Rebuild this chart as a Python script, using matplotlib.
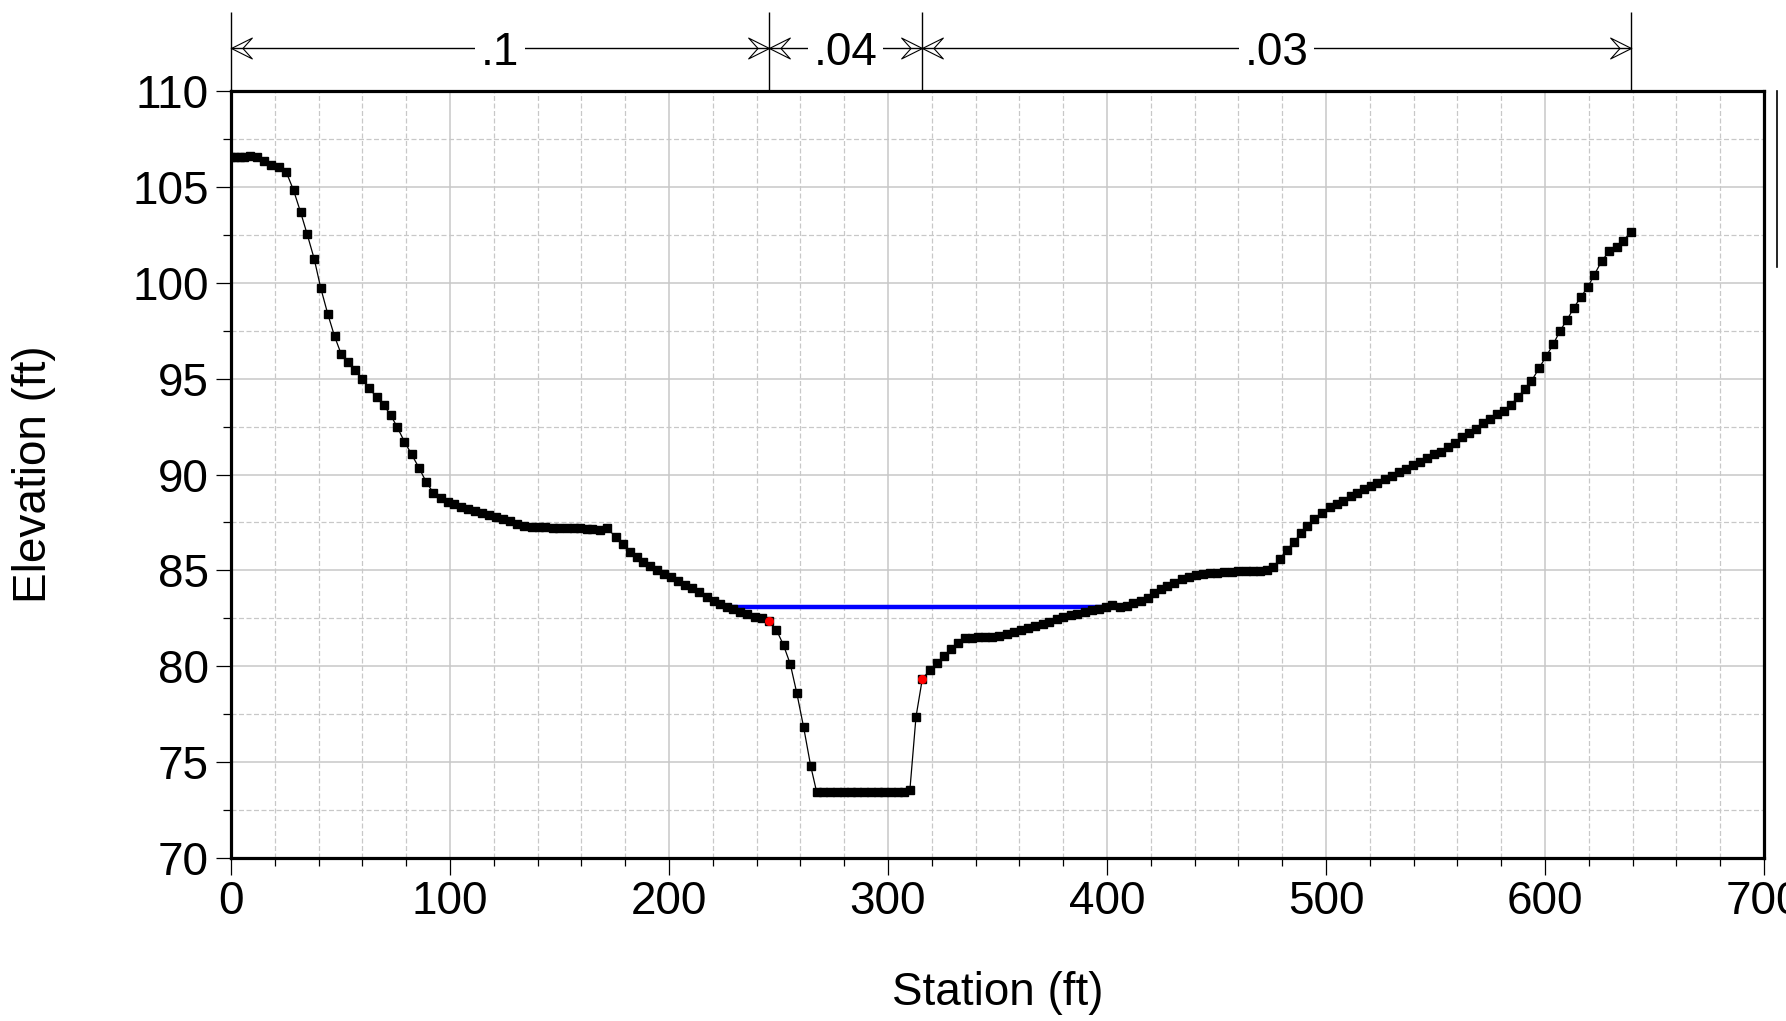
import matplotlib
matplotlib.use("Agg")
import matplotlib.pyplot as plt
from matplotlib.path import Path
from matplotlib.lines import Line2D
from matplotlib.ticker import MultipleLocator

plt.rcParams['font.family'] = ['Liberation Sans', 'DejaVu Sans']

# Cross-section ground points (station ft, elevation ft)
station = [
    0, 2, 4, 6, 8.5, 11.8, 15.3, 18.5, 22, 25.3, 28.6, 31.8, 34.8, 38, 41, 44.2,
    47.3, 50.3, 53.5, 56.5, 60, 63, 66.5, 69.8, 72.9, 75.9, 79.2, 82.5, 86, 89.2,
    92.4, 95.7, 98.9, 101.8, 105, 108.4, 111.6, 114.7, 118, 121, 124.3, 127.4,
    130.5, 133.9, 137.5, 140.5, 143.5, 147, 150, 153.3, 156.5, 159.5, 162.5, 165,
    168.5, 171.8, 175.6, 178.8, 182, 185.2, 188.3, 191.3, 194.7, 197.7, 200.8,
    204.1, 207.3, 210.6, 213.8, 217.2, 220.4, 223.3, 226.3, 229.4, 232.4, 235.8,
    239.3, 242.5, 245.6, 249.1, 252.3, 255.4, 258.4, 261.5, 264.7, 267.4, 270.5,
    273.6, 276.7, 279.8, 282.9, 286, 289.1, 292.2, 295.3, 298.4, 301.5, 304.6,
    307.4, 310, 312.8, 315.7, 319.2, 322.3, 325.5, 328.7, 331.8, 335, 338.2,
    341.2, 344.4, 347.6, 350.9, 354.2, 357.4, 360.6, 364.1, 367.1, 370.6, 373.7,
    377, 380.1, 383.4, 386.5, 390, 393, 396.4, 399.5, 402.5, 406, 409, 412,
    415.4, 418.5, 421.5, 424.5, 427.6, 430.6, 434.1, 437.4, 440.6, 444, 447,
    450.4, 453.5, 456.9, 460, 463.3, 466.8, 469.9, 472.9, 476, 479, 482.1, 485.4,
    488.5, 491.5, 494.5, 498.2, 501.6, 504.8, 507.9, 511.3, 514.3, 517.4, 520.4,
    523.4, 526.8, 530, 533.5, 536.5, 539.9, 542.9, 546, 549.3, 552.4, 555.7,
    558.9, 562, 565.4, 568.5, 571.8, 574.9, 577.9, 581.1, 584.3, 587.5, 590.7,
    593.8, 597.3, 600.6, 603.8, 606.8, 610, 613.2, 616.4, 619.5, 622.5, 625.9,
    629.4, 632.7, 635.8, 639.1,
]
elevation = [
    106.6, 106.6, 106.6, 106.6, 106.65, 106.6, 106.35, 106.15, 106.08, 105.78,
    104.84, 103.7, 102.55, 101.27, 99.74, 98.39, 97.22, 96.3, 95.85, 95.45, 95.0,
    94.51, 94.05, 93.61, 93.11, 92.48, 91.72, 91.05, 90.32, 89.6, 89.05, 88.76,
    88.58, 88.46, 88.32, 88.18, 88.09, 87.97, 87.88, 87.76, 87.67, 87.55, 87.43,
    87.31, 87.25, 87.24, 87.24, 87.2, 87.2, 87.19, 87.19, 87.19, 87.18, 87.15,
    87.1, 87.19, 86.75, 86.37, 85.95, 85.68, 85.45, 85.24, 85.01, 84.79, 84.63,
    84.44, 84.25, 84.06, 83.85, 83.62, 83.41, 83.25, 83.1, 82.96, 82.84, 82.72,
    82.57, 82.5, 82.33, 81.88, 81.09, 80.1, 78.57, 76.8, 74.79, 73.44, 73.44,
    73.44, 73.44, 73.44, 73.44, 73.44, 73.44, 73.44, 73.44, 73.44, 73.44, 73.44,
    73.44, 73.52, 77.35, 79.34, 79.79, 80.15, 80.53, 80.87, 81.22, 81.44, 81.46,
    81.5, 81.52, 81.52, 81.55, 81.66, 81.77, 81.88, 82.0, 82.1, 82.19, 82.31,
    82.44, 82.54, 82.65, 82.73, 82.82, 82.91, 82.99, 83.1, 83.2, 83.1, 83.16,
    83.28, 83.41, 83.55, 83.8, 84.0, 84.18, 84.35, 84.56, 84.66, 84.75, 84.79,
    84.84, 84.87, 84.89, 84.92, 84.96, 84.98, 84.96, 84.98, 85.01, 85.19, 85.6,
    86.06, 86.48, 86.93, 87.33, 87.69, 87.97, 88.28, 88.44, 88.62, 88.88, 89.02,
    89.23, 89.4, 89.57, 89.75, 89.92, 90.15, 90.27, 90.5, 90.65, 90.85, 91.06,
    91.19, 91.42, 91.66, 91.94, 92.18, 92.36, 92.67, 92.88, 93.16, 93.33, 93.63,
    94.03, 94.45, 94.88, 95.55, 96.19, 96.81, 97.49, 98.07, 98.71, 99.28, 99.78,
    100.43, 101.15, 101.67, 101.86, 102.19, 102.68,
]

# Bank stations
bank_station = [245.6, 315.7]
bank_elevation = [82.33, 79.34]

# Water surface
ws_elevation = 83.1
ws_extent = [226.8, 399.6]

# Manning's n regions: boundaries and values
n_bounds = [0, 245.6, 315.7, 639.1]
n_labels = [".1", ".04", ".03"]

x_ticks = [0, 100, 200, 300, 400, 500, 600, 700]
y_ticks = [70, 75, 80, 85, 90, 95, 100, 105, 110]

FS = 33

fig = plt.figure(figsize=(17.86, 10.21), dpi=100)
ax = fig.add_axes([0.1293, 0.1601, 0.8584, 0.7503])

ax.set_xlim(0, 700)
ax.set_ylim(70, 110)
ax.set_xticks(x_ticks)
ax.set_yticks(y_ticks)
ax.xaxis.set_minor_locator(MultipleLocator(20))
ax.yaxis.set_minor_locator(MultipleLocator(2.5))

grid_gray = '#c8c8c8'
ax.grid(which='major', color=grid_gray, linestyle='-', linewidth=1.1, zorder=0)
ax.grid(which='minor', color=grid_gray, linestyle=(0, (4, 2)), linewidth=0.9, zorder=0)
ax.set_axisbelow(True)

for sp in ax.spines.values():
    sp.set_linewidth(2.3)
    sp.set_color('black')

ax.tick_params(axis='both', which='major', labelsize=FS, width=0.9, color='black')
ax.tick_params(axis='x', which='major', length=12.5, pad=4)
ax.tick_params(axis='y', which='major', length=11, pad=5)
ax.tick_params(axis='x', which='minor', length=5.5, width=0.9)
ax.tick_params(axis='y', which='minor', length=6, width=0.9)

# Ground profile
ax.plot(station, elevation, color='black', linewidth=0.9, marker='s',
        markersize=5.2, markerfacecolor='black', markeredgecolor='black', zorder=3)
# Bank stations
ax.plot(bank_station, bank_elevation, linestyle='none', marker='o', markersize=5.5,
        color='red', zorder=4)
# Water surface
ax.plot(ws_extent, [ws_elevation, ws_elevation], color='#0000ff', linewidth=3.2, zorder=2)

ax.set_xlabel('Station (ft)', fontsize=FS)
ax.xaxis.set_label_coords(0.5, -0.177)
ax.xaxis.label.set_verticalalignment('center')
ax.set_ylabel('Elevation (ft)', fontsize=FS)
ax.yaxis.set_label_coords(-0.1285, 0.5)
ax.yaxis.label.set_verticalalignment('center')

# Manning's n dimension lines above the plot
trans = ax.get_xaxis_transform()
y_arrow = 1.0568
y_top = 1.1037
ax.vlines(n_bounds, 1.0, y_top, transform=trans, colors='black', linewidth=1.0,
          clip_on=False)
ax.plot([n_bounds[0], n_bounds[-1]], [y_arrow, y_arrow], transform=trans,
        color='black', linewidth=1.0, clip_on=False)

head_left = Path([(0, 0), (1, 0.5), (0.55, 0), (1, -0.5), (0, 0)],
                 [Path.MOVETO, Path.LINETO, Path.LINETO, Path.LINETO, Path.CLOSEPOLY])
head_right = Path([(0, 0), (-1, 0.5), (-0.55, 0), (-1, -0.5), (0, 0)],
                  [Path.MOVETO, Path.LINETO, Path.LINETO, Path.LINETO, Path.CLOSEPOLY])
for lo, hi, lab in zip(n_bounds[:-1], n_bounds[1:], n_labels):
    ax.plot([lo], [y_arrow], transform=trans, marker=head_left, markersize=30,
            markerfacecolor='none', markeredgecolor='black', markeredgewidth=0.8,
            linestyle='none', clip_on=False)
    ax.plot([hi], [y_arrow], transform=trans, marker=head_right, markersize=30,
            markerfacecolor='none', markeredgecolor='black', markeredgewidth=0.8,
            linestyle='none', clip_on=False)
    ax.text((lo + hi) / 2, y_arrow, lab, transform=trans, ha='center',
            va='center_baseline', fontsize=FS,
            bbox=dict(facecolor='white', edgecolor='none', pad=4), clip_on=False)

# Edge of the legend frame at the right border
fig.add_artist(Line2D([0.995, 0.995], [0.7385, 0.9109], transform=fig.transFigure,
                      color='black', linewidth=1.2))

fig.savefig('out.png', dpi=100, facecolor='white')
